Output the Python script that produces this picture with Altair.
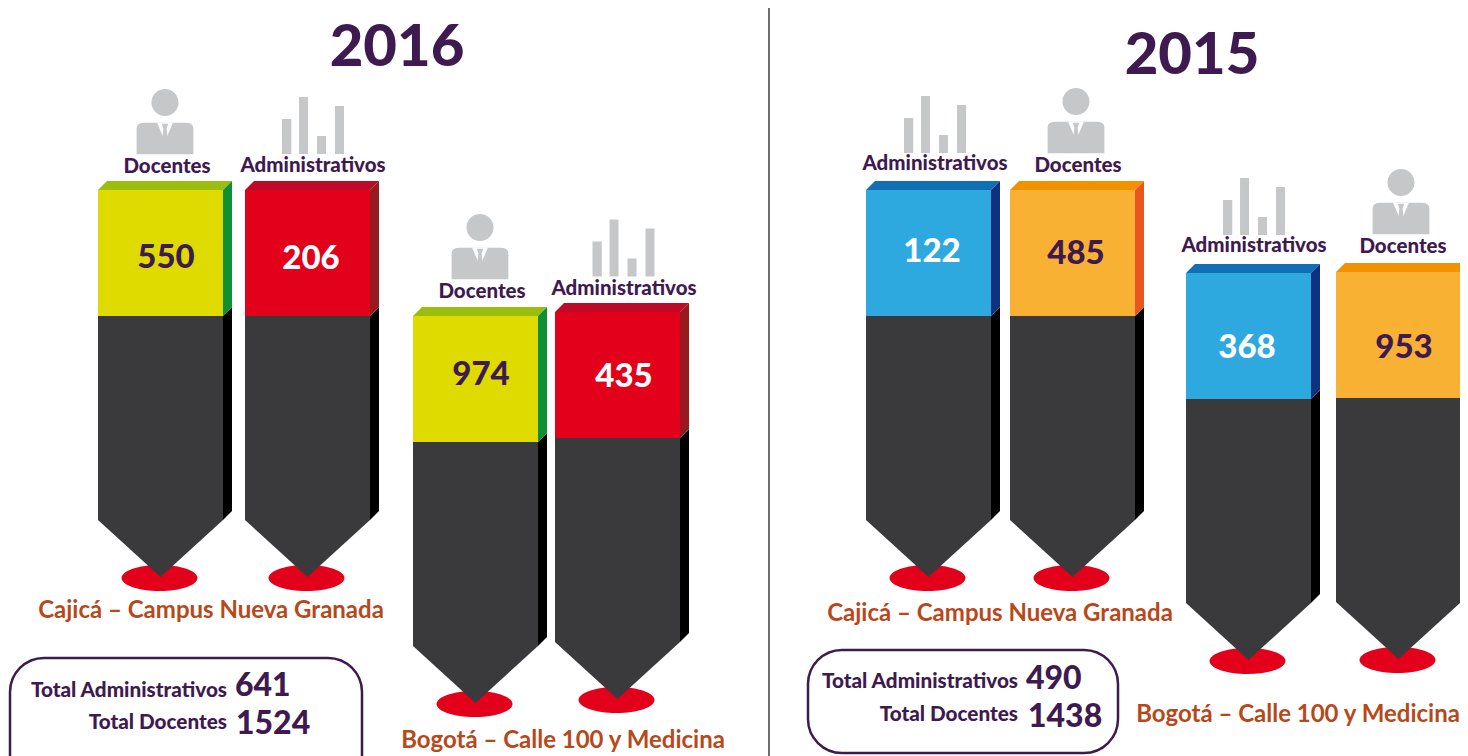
import altair as alt
import pandas as pd

# ---- chart values ----
YEARS = ["2016", "2015"]
ROLES = ["Docentes", "Administrativos", "Docentes", "Administrativos",
         "Administrativos", "Docentes", "Administrativos", "Docentes"]
VALUES = [550, 206, 974, 435, 122, 485, 368, 953]
PLACES = ["Cajicá – Campus Nueva Granada", "Bogotá – Calle 100 y Medicina",
          "Cajicá – Campus Nueva Granada", "Bogotá – Calle 100 y Medicina"]
TOTAL_LABELS = ["Total Administrativos", "Total Docentes", "Total Administrativos", "Total Docentes"]
TOTAL_VALUES = [641, 1524, 490, 1438]

# ---- layout (reference pixels) ----
FACE_LEFT = [98, 245, 413, 555, 866, 1010, 1186, 1336]
FACE_TOP = [190, 190, 316, 312, 190, 190, 273, 272]
NUM_XY = [(166, 256), (311, 257), (481, 373), (624, 375), (932, 250), (1076, 252), (1247, 346), (1404, 346)]
ROLE_XY = [(167, 166), (313, 165), (482, 291), (624, 288), (935, 163), (1078, 165), (1254, 245), (1403, 246)]
ICON_XY = [(165, 122), (313, 125.5), (480, 247), (623.5, 248), (935, 124.5), (1076, 121), (1254, 206.5), (1401, 202)]
W, DEPTH, FACE_H, BODY_H, TIP_H = 125, 9, 126, 204, 57
PALETTE = {"yellow": ("#DFDB00", "#9BBE0E", "#0F9035"), "red": ("#E2001A", "#BE0A26", "#961A1E"),
           "blue": ("#2EA9DF", "#0F70B6", "#10317F"), "orange": ("#F8B133", "#F39200", "#E9561F")}
PIN_COLOR = ["yellow", "red", "yellow", "red", "blue", "orange", "blue", "orange"]
NUM_COLOR = ["#3F1A50", "#FFFFFF", "#3F1A50", "#FFFFFF", "#FFFFFF", "#3F1A50", "#FFFFFF", "#3F1A50"]
PURPLE, BROWN, GRAY, DARK = "#3F1A50", "#B8481A", "#C6C7C9", "#3A3A3C"
FONT = "Lato"

X = alt.Scale(domain=[8, 1460], range=[0, 1452], nice=False, zero=False)
Y = alt.Scale(domain=[8, 756], range=[0, 748], nice=False, zero=False)
ex = alt.X("x:Q", scale=X, axis=None)
ey = alt.Y("y:Q", scale=Y, axis=None)
ey2 = alt.Y2("y2:Q")
fillc = alt.Color("c:N", scale=None, legend=None)

body, dark_side, face, top, side, ell = [], [], [], [], [], []
for i, (x0, t) in enumerate(zip(FACE_LEFT, FACE_TOP)):
    x1, fb = x0 + W, t + FACE_H
    sh = fb + BODY_H
    mid = (x0 + x1) / 2
    main, tp, sd = PALETTE[PIN_COLOR[i]]
    for x, a, b in [(x0, fb, sh), (mid, fb, sh + TIP_H), (x1, fb, sh)]:
        body.append(dict(p=i, x=x, y=a, y2=b, c=DARK))
    for x, a, b in [(x1, fb, sh), (x1 + DEPTH, fb - DEPTH, sh - DEPTH)]:
        dark_side.append(dict(p=i, x=x, y=a, y2=b, c="#000000"))
    for x in (x0, x1):
        face.append(dict(p=i, x=x, y=t, y2=fb, c=main))
    for x, a, b in [(x0, t, t), (x0 + DEPTH, t - DEPTH, t), (x1, t - DEPTH, t), (x1 + DEPTH, t - DEPTH, t - DEPTH)]:
        top.append(dict(p=i, x=x, y=a, y2=b, c=tp))
    for x, a, b in [(x1, t, fb), (x1 + DEPTH, t - DEPTH, fb - DEPTH)]:
        side.append(dict(p=i, x=x, y=a, y2=b, c=sd))
    ell.append(dict(x=mid - 1, y=sh + TIP_H + 1))


def poly(rows):
    return alt.Chart(pd.DataFrame(rows)).mark_area(opacity=1, interpolate="linear").encode(
        x=ex, y=ey, y2=ey2, color=fillc, detail="p:N")


ELLIPSE = "M-1,0 A1,0.342 0 1 1 1,0 A1,0.342 0 1 1 -1,0 Z"
ellipses = alt.Chart(pd.DataFrame(ell)).mark_point(
    shape=ELLIPSE, size=5776, filled=True, color="#E2001A", opacity=1).encode(x=ex, y=ey)

# icons (unit paths; Vega scales them by sqrt(size)/2)
PERSON = ("M-0.41,-0.59 A0.41,0.41 0 1 1 0.41,-0.59 A0.41,0.41 0 1 1 -0.41,-0.59 Z "
          "M-0.86,0.98 L-0.86,0.2 Q-0.86,0.02 -0.62,0.02 L0.62,0.02 Q0.86,0.02 0.86,0.2 L0.86,0.98 Z")
SHIRT = "M-0.24,0.02 L0.24,0.02 L0,0.58 Z"
TIE = "M-0.1,0.05 L0.1,0.05 L0.05,0.2 L0.09,0.58 L0,0.72 L-0.09,0.58 L-0.05,0.2 Z"
BARS = ("M-1,0.92 L-1,-0.21 L-0.7,-0.21 L-0.7,0.92 Z M-0.45,0.92 L-0.45,-0.92 L-0.16,-0.92 L-0.16,0.92 Z "
        "M0.13,0.92 L0.13,0.34 L0.42,0.34 L0.42,0.92 Z M0.71,0.92 L0.71,-0.63 L1,-0.63 L1,0.92 Z")
pers = pd.DataFrame([dict(x=a, y=b) for (a, b), r in zip(ICON_XY, ROLES) if r == "Docentes"])
bars = pd.DataFrame([dict(x=a, y=b) for (a, b), r in zip(ICON_XY, ROLES) if r != "Docentes"])
icons = [
    alt.Chart(pers).mark_point(shape=PERSON, size=4356, filled=True, color=GRAY, opacity=1).encode(x=ex, y=ey),
    alt.Chart(pers).mark_point(shape=SHIRT, size=4356, filled=True, color="#FFFFFF", opacity=1).encode(x=ex, y=ey),
    alt.Chart(pers).mark_point(shape=TIE, size=4356, filled=True, color=GRAY, opacity=1).encode(x=ex, y=ey),
    alt.Chart(bars).mark_point(shape=BARS, size=3844, filled=True, color=GRAY, opacity=1).encode(x=ex, y=ey),
]


def text(rows, size, align="center", dy=0, weight=900):
    return alt.Chart(pd.DataFrame(rows)).mark_text(
        font=FONT, fontWeight=weight, fontSize=size, align=align, baseline="middle", dy=dy).encode(
        x=ex, y=ey, text="t:N", color=alt.Color("c:N", scale=None, legend=None))


nums = text([dict(x=a, y=b, t=str(v), c=c) for (a, b), v, c in zip(NUM_XY, VALUES, NUM_COLOR)], 33, dy=2)
roles = text([dict(x=a, y=b, t=r, c=PURPLE) for (a, b), r in zip(ROLE_XY, ROLES)], 20.5, dy=1)
titles = text([dict(x=x, y=y, t=t, c=PURPLE) for t, (x, y) in zip(YEARS, [(397, 46), (1192, 54)])], 58, dy=3)
places = text([dict(x=x, y=y, t=t, c=BROWN) for t, (x, y) in
               zip(PLACES, [(211, 610), (563, 740), (1000, 613), (1298, 714)])], 24, dy=1, weight="bold")
tot_l = text([dict(x=x, y=y, t=t, c=PURPLE) for t, (x, y) in
              zip(TOTAL_LABELS, [(227, 690), (227, 722), (1018, 681), (1018, 714)])], 20.7, "right", dy=1)
tot_v = text([dict(x=x, y=y, t=str(t), c=PURPLE) for t, (x, y) in
              zip(TOTAL_VALUES, [(235, 685), (236, 723), (1026, 678), (1028, 716)])], 32, "left", dy=1)

boxes = alt.Chart(pd.DataFrame([dict(x=10, x2=362, y=658, y2=790), dict(x=808, x2=1118, y=650, y2=753)])).mark_rect(
    cornerRadius=34, fill="#FFFFFF", stroke=PURPLE, strokeWidth=2.5, clip=True).encode(
    x=ex, x2="x2:Q", y=ey, y2=ey2)
divider = alt.Chart(pd.DataFrame([dict(x=769, y=8, y2=756)])).mark_rule(color="#6E6E6E", strokeWidth=2).encode(
    x=ex, y=ey, y2=ey2)

chart = alt.layer(
    divider, boxes, ellipses, poly(body), poly(dark_side), poly(face), poly(top), poly(side),
    *icons, nums, roles, titles, places, tot_l, tot_v,
).properties(width=1452, height=748, padding=0, autosize=alt.AutoSizeParams(type="none")
).configure_view(stroke=None)

chart.save("out.html", embed_options={"renderer": "svg", "actions": False})
